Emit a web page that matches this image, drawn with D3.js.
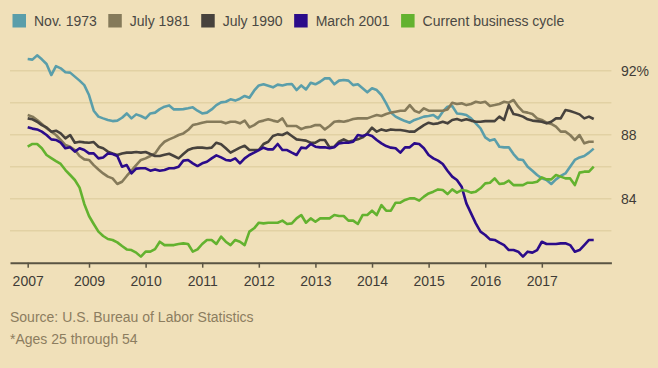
<!DOCTYPE html>
<html lang="en">
<head>
<meta charset="UTF-8">
<title>Employment rate by business cycle</title>
<style>
    body { margin: 0; background: #f0e0b9; }
    #chart { display: block; font-family: "Liberation Sans", Arial, sans-serif; }
</style>
<script src="https://d3js.org/d3.v7.min.js"></script>
</head>
<body>
<svg id="chart"></svg>
<script>
    // series labels + colours (legend order)
    const seriesNames = ['Nov. 1973', 'July 1981', 'July 1990', 'March 2001', 'Current business cycle'];
    const seriesColors = ['#5a9eaa', '#857a5a', '#47423d', '#2b0b8a', '#63b22f'];

    // monthly values, month 0 = cycle peak (%)
    const nov1973 = [
        92.73, 92.69, 92.96, 92.71, 92.42, 91.73, 92.29, 92.15, 91.9, 91.88,
        91.63, 91.38, 91.1, 90.48, 89.5, 89.13, 89.02, 88.92, 88.85, 88.88,
        89.06, 89.33, 89.02, 89.27, 89.17, 89.02, 89.33, 89.38, 89.6, 89.75,
        89.83, 89.58, 89.58, 89.6, 89.65, 89.71, 89.5, 89.33, 89.38, 89.58,
        89.85, 90.02, 90.06, 90.21, 90.13, 90.25, 90.42, 90.31, 90.75, 91.08,
        91.15, 91.06, 90.96, 91.13, 91.08, 91.15, 91.17, 90.79, 91.08, 90.83,
        91.25, 91.15, 91.31, 91.52, 91.52, 91.15, 91.38, 91.42, 91.38, 91.1,
        91.15, 90.9, 90.65, 90.9, 90.79, 90.48, 89.96, 89.38, 89.13, 88.98,
        88.85, 88.75, 88.92, 89.02, 89.13, 89.17, 89.23, 89.02, 89.44, 89.75,
        89.79, 89.33, 89.29, 89.23, 89.02, 88.71, 88.4, 87.83, 87.63, 87.71,
        87.25, 87.21, 87.21, 86.79, 86.46, 86.42, 86.0, 85.75, 85.48, 85.27,
        85.17, 84.92, 85.21, 85.42, 85.58, 86.0, 86.42, 86.58, 86.67, 86.88, 87.13
    ];
    const jul1981 = [
        89.23, 89.13, 88.92, 88.67, 88.4, 88.19, 87.98, 87.67, 87.35, 87.25,
        87.04, 86.67, 86.46, 86.42, 86.1, 85.83, 85.58, 85.38, 85.27, 84.92,
        85.06, 85.42, 85.75, 86.1, 86.42, 86.52, 86.67, 86.83, 87.25, 87.56,
        87.71, 87.83, 87.98, 88.08, 88.29, 88.6, 88.67, 88.75, 88.81, 88.81,
        88.81, 88.81, 88.71, 88.81, 88.81, 88.71, 88.88, 88.46, 88.6, 88.81,
        88.88, 88.96, 88.88, 88.81, 89.02, 88.54, 88.54, 88.54, 88.35, 88.46,
        88.5, 88.6, 88.6, 88.33, 88.54, 88.81, 88.85, 88.81, 88.88, 88.98,
        89.02, 89.02, 89.02, 89.13, 89.23, 89.17, 89.29, 89.38, 89.44, 89.5,
        89.5, 89.85, 89.5, 89.38, 89.65, 89.5, 89.5, 89.5, 89.5, 89.58,
        90.0, 89.92, 89.96, 89.85, 89.92, 90.06, 90.0, 90.06, 89.79, 89.85,
        89.92, 90.06, 90.0, 90.17, 89.75, 89.44, 89.38, 89.29, 89.02, 88.92,
        88.75, 88.67, 88.5, 88.19, 88.19, 87.98, 87.67, 87.98, 87.46, 87.56, 87.56
    ];
    const jul1990 = [
        89.02, 88.96, 88.81, 88.6, 88.46, 88.19, 88.25, 88.08, 87.77, 87.98,
        87.5, 87.56, 87.52, 87.5, 87.54, 87.25, 87.15, 86.94, 86.83, 86.73,
        86.83, 86.88, 86.88, 86.92, 86.88, 86.92, 86.79, 86.67, 86.67, 86.75,
        86.81, 86.67, 86.52, 86.79, 87.04, 87.15, 87.19, 87.19, 87.15, 87.19,
        87.5, 87.4, 87.15, 86.88, 87.04, 87.19, 87.31, 87.04, 87.04, 87.04,
        87.42, 87.56, 87.92, 88.02, 87.98, 88.13, 87.92, 87.71, 87.67, 87.63,
        87.5, 87.5, 87.67, 87.67, 87.21, 87.25, 87.56, 87.71, 87.56, 87.63,
        87.71, 87.83, 88.08, 88.44, 88.19, 88.33, 88.25, 88.33, 88.29, 88.29,
        88.25, 88.19, 88.19, 88.4, 88.6, 88.75, 88.67, 88.71, 88.81, 88.71,
        88.92, 88.98, 88.88, 88.96, 88.88, 88.81, 88.81, 88.85, 88.85, 88.85,
        89.13, 88.92, 89.85, 89.29, 89.23, 89.13, 88.96, 88.88, 88.85, 88.81,
        88.71, 88.81, 89.02, 89.02, 89.54, 89.48, 89.38, 89.27, 89.02, 89.13, 88.98
    ];
    const mar2001 = [
        88.46, 88.38, 88.33, 88.19, 87.98, 87.71, 87.67, 87.5, 87.15, 87.21,
        86.94, 87.15, 87.04, 86.83, 86.83, 86.52, 86.58, 86.83, 86.79, 86.67,
        86.0, 86.1, 85.58, 85.88, 85.9, 85.9, 85.75, 85.83, 85.75, 85.79,
        85.9, 85.9, 86.0, 86.38, 86.42, 86.21, 86.04, 86.21, 86.31, 86.52,
        86.71, 86.58, 86.42, 86.38, 86.52, 86.21, 86.52, 86.73, 86.88, 87.04,
        87.19, 87.08, 87.08, 87.42, 87.04, 87.04, 86.88, 86.73, 87.19, 87.15,
        87.42, 87.25, 87.21, 87.21, 87.15, 87.21, 87.46, 87.5, 87.5, 87.56,
        87.98, 87.92, 88.02, 87.92, 87.67, 87.46, 87.29, 87.19, 87.15, 86.88,
        87.21, 87.21, 87.46, 87.42, 87.15, 86.73, 86.52, 86.38, 86.17, 85.75,
        85.38, 85.17, 84.75, 83.71, 83.08, 82.46, 81.94, 81.73, 81.46, 81.42,
        81.25, 81.1, 80.79, 80.79, 80.69, 80.38, 80.69, 80.63, 80.79, 81.31,
        81.17, 81.17, 81.17, 81.21, 81.21, 81.1, 80.69, 80.79, 81.1, 81.42, 81.42
    ];
    const current = [
        87.25, 87.42, 87.42, 87.15, 86.73, 86.54, 86.35, 86.17, 85.79, 85.48,
        85.17, 84.69, 83.67, 82.92, 82.42, 81.94, 81.67, 81.48, 81.42, 81.27,
        81.04, 80.83, 80.79, 80.63, 80.38, 80.69, 80.69, 80.85, 81.31, 81.1,
        81.1, 81.1, 81.17, 81.21, 81.17, 80.69, 80.83, 81.17, 81.42, 81.42,
        81.17, 81.63, 81.31, 81.1, 81.42, 81.31, 81.1, 81.94, 82.15, 82.5,
        82.46, 82.5, 82.5, 82.5, 82.63, 82.42, 82.46, 82.77, 82.98, 82.5,
        82.77, 82.56, 82.77, 82.77, 82.77, 82.98, 82.92, 82.92, 82.63, 82.63,
        82.42, 82.98, 82.98, 83.25, 82.98, 83.6, 83.25, 83.25, 83.75, 83.75,
        83.92, 84.02, 84.02, 83.88, 84.13, 84.33, 84.44, 84.58, 84.54, 84.29,
        84.58, 84.38, 84.54, 84.5, 84.38, 84.44, 84.65, 84.96, 85.0, 85.27,
        84.92, 84.96, 85.13, 84.85, 84.85, 84.85, 85.0, 85.0, 85.06, 85.33,
        85.21, 85.21, 85.48, 85.38, 85.27, 85.27, 84.85, 85.63, 85.69, 85.69, 86.0
    ];

    // axis ticks: months since Dec 2007 peak, labelled with calendar year
    const xTickMonths = [0, 13, 25, 37, 49, 61, 73, 85, 97, 109];
    const xTickLabels = ['2007', '2009', '2010', '2011', '2012', '2013', '2014', '2015', '2016', '2017'];
    const yGrid = [82, 84, 86, 88, 90, 92];
    const yTickValues = [84, 88, 92];
    const yTickLabels = ['84', '88', '92%'];

    const width = 658;
    const height = 368;
    const allSeries = [nov1973, jul1981, jul1990, mar2001, current];

    const svg = d3.select('#chart')
        .attr('width', width)
        .attr('height', height);

    const x = d3.scaleLinear().domain([-3.75, 123.75]).range([10, 611.4]);
    const y = d3.scaleLinear().domain([80, 92]).range([262.7, 70.7]);

    // grid
    svg.append('g')
        .selectAll('line')
        .data(yGrid)
        .enter()
        .append('line')
        .attr('x1', x.range()[0])
        .attr('x2', x.range()[1])
        .attr('y1', d => y(d))
        .attr('y2', d => y(d))
        .attr('stroke', '#e2d1a4')
        .attr('stroke-width', 1.5);

    // y labels on the right
    svg.append('g')
        .selectAll('text')
        .data(yTickValues)
        .enter()
        .append('text')
        .attr('x', 621)
        .attr('y', d => y(d))
        .attr('dy', '0.36em')
        .attr('fill', '#3f3c37')
        .attr('font-size', 14)
        .text((d, i) => yTickLabels[i]);

    // lines
    const line = d3.line()
        .x((d, i) => x(i))
        .y(d => y(d));

    svg.append('g')
        .selectAll('path')
        .data(allSeries)
        .enter()
        .append('path')
        .attr('d', d => line(d))
        .attr('fill', 'none')
        .attr('stroke', (d, i) => seriesColors[i])
        .attr('stroke-width', 2.6)
        .attr('stroke-linejoin', 'round');

    // x axis
    const xAxis = d3.axisBottom(x)
        .tickValues(xTickMonths)
        .tickFormat((d, i) => xTickLabels[i])
        .tickSize(5)
        .tickSizeOuter(0)
        .tickPadding(8);

    const gx = svg.append('g')
        .attr('transform', 'translate(0,' + y(80) + ')')
        .call(xAxis);
    gx.select('.domain').attr('stroke', '#5a5443').attr('stroke-width', 2);
    gx.selectAll('.tick line').attr('stroke', '#5a5443').attr('stroke-width', 1.5);
    gx.selectAll('.tick text')
        .attr('fill', '#3f3c37')
        .attr('font-size', 14)
        .attr('font-family', '"Liberation Sans", Arial, sans-serif');

    // legend
    const legend = svg.append('g');
    let lx = 12.5;
    seriesNames.forEach(function (name, i) {
        legend.append('rect')
            .attr('x', lx)
            .attr('y', 14)
            .attr('width', 13.5)
            .attr('height', 13.5)
            .attr('fill', seriesColors[i]);
        const t = legend.append('text')
            .attr('x', lx + 21.5)
            .attr('y', 21)
            .attr('dy', '0.36em')
            .attr('fill', '#4a4843')
            .attr('font-size', 14)
            .text(name);
        lx = lx + 21.5 + t.node().getComputedTextLength() + 11.5;
    });

    // footnotes
    svg.append('text')
        .attr('x', 10)
        .attr('y', 317)
        .attr('dy', '0.36em')
        .attr('fill', '#8c7d5f')
        .attr('font-size', 14)
        .text('Source: U.S. Bureau of Labor Statistics');
    svg.append('text')
        .attr('x', 10)
        .attr('y', 338.5)
        .attr('dy', '0.36em')
        .attr('fill', '#8c7d5f')
        .attr('font-size', 14)
        .text('*Ages 25 through 54');
</script>
</body>
</html>
